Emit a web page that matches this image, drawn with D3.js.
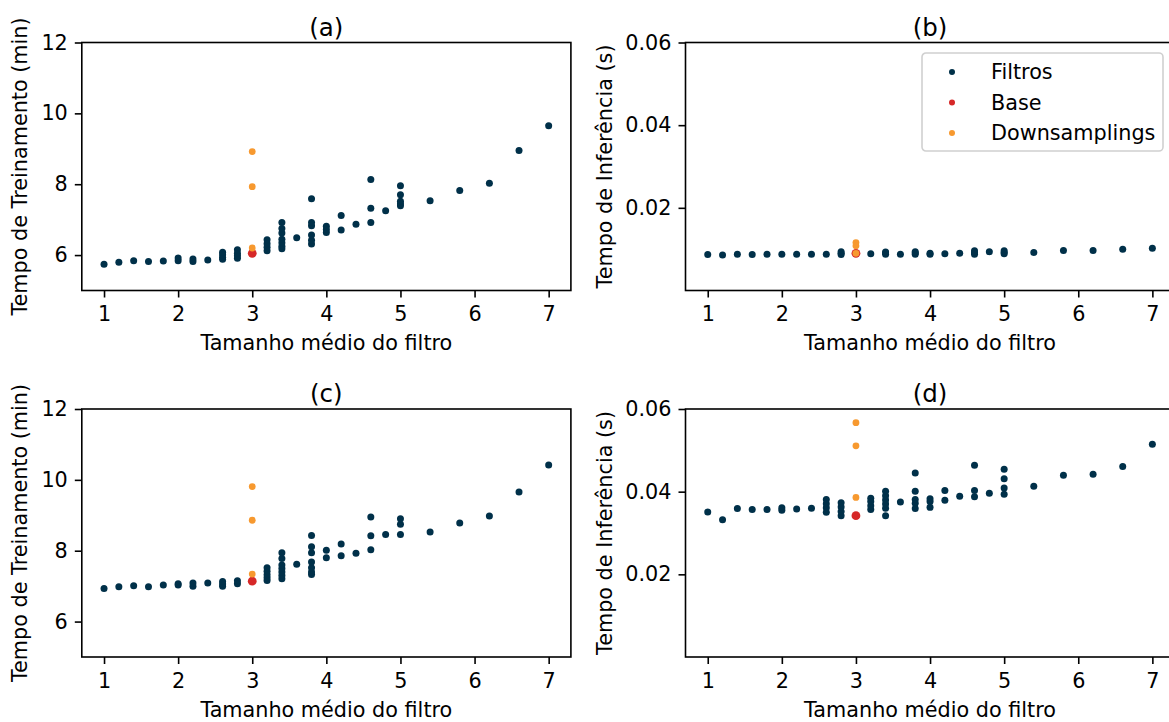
<!DOCTYPE html>
<html>
<head>
<meta charset="utf-8">
<script src="https://cdn.jsdelivr.net/npm/d3@7"></script>
<style>
  html, body { margin: 0; padding: 0; background: #fff; }
  svg { display: block; font-family: "DejaVu Sans", sans-serif; }
</style>
</head>
<body>
<svg id="chart" width="1169" height="722"></svg>
<script>
// Average filter size vs. training time / inference time.
// Each entry is [tamanho médio do filtro, valor].

const seriesNames = ["Filtros", "Base", "Downsamplings"];
const seriesColors = ["#003049", "#d62828", "#f7992f"];

const xTicks = [1, 2, 3, 4, 5, 6, 7];
const trainTicks = [6, 8, 10, 12];
const inferTicks = [0.02, 0.04, 0.06];
const trainDomain = [5, 12];
const inferDomain = [0, 0.06];
const xDomain = [0.7, 7.3];

// (a) Tempo de treinamento (min)
const filtrosA = [
  [1.0, 5.74], [1.2, 5.80], [1.4, 5.84], [1.6, 5.82], [1.8, 5.83],
  [2.0, 5.84], [2.0, 5.92], [2.2, 5.82], [2.2, 5.89], [2.4, 5.86],
  [2.6, 5.88], [2.6, 5.94], [2.6, 6.01], [2.6, 6.08],
  [2.8, 5.91], [2.8, 5.98], [2.8, 6.05], [2.8, 6.15],
  [3.2, 6.12], [3.2, 6.22], [3.2, 6.32], [3.2, 6.43],
  [3.4, 6.18], [3.4, 6.25], [3.4, 6.35], [3.4, 6.45], [3.4, 6.62], [3.4, 6.75], [3.4, 6.92],
  [3.6, 6.49],
  [3.8, 6.31], [3.8, 6.42], [3.8, 6.57], [3.8, 6.83], [3.8, 6.92], [3.8, 7.59],
  [4.0, 6.64], [4.0, 6.72], [4.0, 6.81],
  [4.2, 6.71], [4.2, 7.12], [4.4, 6.87],
  [4.6, 6.92], [4.6, 7.32], [4.6, 8.13], [4.8, 7.25],
  [5.0, 7.39], [5.0, 7.45], [5.0, 7.52], [5.0, 7.70], [5.0, 7.96],
  [5.4, 7.53], [5.8, 7.82], [6.2, 8.03], [6.6, 8.95], [7.0, 9.65]
];
const baseA = [[3.0, 6.05]];
const downA = [[3.0, 8.92], [3.0, 7.93], [3.0, 6.20]];

// (b) Tempo de inferência (s)
const filtrosB = [
  [1.0, 0.0087], [1.2, 0.0086], [1.4, 0.0088], [1.6, 0.0087], [1.8, 0.0088],
  [2.0, 0.0088], [2.2, 0.0088], [2.4, 0.0088], [2.6, 0.0088],
  [2.8, 0.0087], [2.8, 0.0090], [2.8, 0.0094],
  [3.2, 0.0089], [3.4, 0.0088], [3.4, 0.0091], [3.4, 0.0093], [3.6, 0.0088],
  [3.8, 0.0088], [3.8, 0.0091], [3.8, 0.0094],
  [4.0, 0.0088], [4.0, 0.0090], [4.2, 0.0089], [4.4, 0.0090],
  [4.6, 0.0088], [4.6, 0.0092], [4.6, 0.0096], [4.8, 0.0094],
  [5.0, 0.0089], [5.0, 0.0092], [5.0, 0.0096],
  [5.4, 0.0092], [5.8, 0.0097], [6.2, 0.0097], [6.6, 0.0100], [7.0, 0.0102]
];
const baseB = [[3.0, 0.0090]];
const downB = [[3.0, 0.0116], [3.0, 0.0108], [3.0, 0.0090]];

// (c) Tempo de treinamento (min)
const filtrosC = [
  [1.0, 6.93], [1.2, 6.98], [1.4, 7.01], [1.6, 6.98], [1.8, 7.03],
  [2.0, 7.03], [2.0, 7.07], [2.2, 7.00], [2.2, 7.09], [2.4, 7.09],
  [2.6, 7.00], [2.6, 7.06], [2.6, 7.13], [2.8, 7.07], [2.8, 7.15],
  [3.2, 7.16], [3.2, 7.24], [3.2, 7.32], [3.2, 7.42], [3.2, 7.52],
  [3.4, 7.21], [3.4, 7.30], [3.4, 7.40], [3.4, 7.50], [3.4, 7.60], [3.4, 7.78], [3.4, 7.94],
  [3.6, 7.62],
  [3.8, 7.33], [3.8, 7.40], [3.8, 7.52], [3.8, 7.68], [3.8, 7.94], [3.8, 8.11], [3.8, 8.43],
  [4.0, 7.80], [4.0, 8.01], [4.2, 7.86], [4.2, 8.19], [4.4, 7.93],
  [4.6, 8.03], [4.6, 8.42], [4.6, 8.95], [4.8, 8.46],
  [5.0, 8.46], [5.0, 8.75], [5.0, 8.90],
  [5.4, 8.53], [5.8, 8.78], [6.2, 8.98], [6.6, 9.66], [7.0, 10.42]
];
const baseC = [[3.0, 7.14]];
const downC = [[3.0, 9.81], [3.0, 8.86], [3.0, 7.34]];

// (d) Tempo de inferência (s)
const filtrosD = [
  [1.0, 0.0351], [1.2, 0.0332], [1.4, 0.0359], [1.6, 0.0357], [1.8, 0.0357],
  [2.0, 0.0355], [2.0, 0.0361], [2.2, 0.0358], [2.4, 0.0360],
  [2.6, 0.0350], [2.6, 0.0361], [2.6, 0.0371], [2.6, 0.0381],
  [2.8, 0.0342], [2.8, 0.0352], [2.8, 0.0363], [2.8, 0.0373],
  [3.2, 0.0357], [3.2, 0.0366], [3.2, 0.0376], [3.2, 0.0384],
  [3.4, 0.0342], [3.4, 0.0360], [3.4, 0.0370], [3.4, 0.0380], [3.4, 0.0390], [3.4, 0.0401],
  [3.6, 0.0375],
  [3.8, 0.0359], [3.8, 0.0372], [3.8, 0.0381], [3.8, 0.0401], [3.8, 0.0445],
  [4.0, 0.0362], [4.0, 0.0376], [4.0, 0.0383],
  [4.2, 0.0379], [4.2, 0.0403], [4.4, 0.0389],
  [4.6, 0.0388], [4.6, 0.0403], [4.6, 0.0464], [4.8, 0.0396],
  [5.0, 0.0394], [5.0, 0.0409], [5.0, 0.0431], [5.0, 0.0454],
  [5.4, 0.0413], [5.8, 0.0440], [6.2, 0.0442], [6.6, 0.0461], [7.0, 0.0515]
];
const baseD = [[3.0, 0.0342]];
const downD = [[3.0, 0.0567], [3.0, 0.0511], [3.0, 0.0386]];

const xLabel = "Tamanho médio do filtro";
const trainLabel = "Tempo de Treinamento (min)";
const inferLabel = "Tempo de Inferência (s)";

// Panel layout (pixels)
const colLeft = [81.8, 685.5];
const colWidth = 489.1;
const rowTop = [42.5, 409];
const rowHeight = 248;

const panels = [
  { title: "(a)", col: 0, row: 0, kind: "train", sets: [filtrosA, baseA, downA] },
  { title: "(b)", col: 1, row: 0, kind: "infer", sets: [filtrosB, baseB, downB], legend: true },
  { title: "(c)", col: 0, row: 1, kind: "train", sets: [filtrosC, baseC, downC] },
  { title: "(d)", col: 1, row: 1, kind: "infer", sets: [filtrosD, baseD, downD] }
];

const radii = [3.5, 4.4, 3.4];
const FS = 20.75;

const svg = d3.select("#chart");

panels.forEach(p => {
  const x0 = colLeft[p.col], y0 = rowTop[p.row];
  const g = svg.append("g").attr("transform", `translate(${x0},${y0})`);
  const x = d3.scaleLinear().domain(xDomain).range([0, colWidth]);
  const isTrain = p.kind === "train";
  const y = d3.scaleLinear()
    .domain(isTrain ? trainDomain : inferDomain)
    .range([rowHeight, 0]);

  // axes
  const xAxis = d3.axisBottom(x).tickValues(xTicks).tickFormat(d3.format("d"))
    .tickSize(7).tickSizeOuter(0).tickPadding(9);
  const yAxis = d3.axisLeft(y)
    .tickValues(isTrain ? trainTicks : inferTicks)
    .tickFormat(isTrain ? d3.format("d") : d3.format(".2f"))
    .tickSize(7).tickSizeOuter(0).tickPadding(7);

  const gx = g.append("g").attr("transform", `translate(0,${rowHeight})`).call(xAxis);
  const gy = g.append("g").call(yAxis);
  [gx, gy].forEach(a => {
    a.select(".domain").remove();
    a.selectAll(".tick line").attr("stroke", "#000").attr("stroke-width", 1.6);
    a.selectAll(".tick text").attr("fill", "#000").attr("font-size", FS)
      .attr("font-family", "DejaVu Sans, sans-serif");
  });

  // points: Filtros, Base, Downsamplings
  p.sets.forEach((set, i) => {
    g.append("g").selectAll("circle").data(set).join("circle")
      .attr("cx", d => x(d[0]))
      .attr("cy", d => y(d[1]))
      .attr("r", radii[i])
      .attr("fill", seriesColors[i]);
  });

  // frame
  g.append("rect")
    .attr("x", 0).attr("y", 0).attr("width", colWidth).attr("height", rowHeight)
    .attr("fill", "none").attr("stroke", "#000").attr("stroke-width", 1.6);

  // title and labels
  g.append("text").attr("x", colWidth / 2).attr("y", -7)
    .attr("text-anchor", "middle").attr("font-size", 24.5).attr("fill", "#000")
    .text(p.title);
  g.append("text").attr("x", colWidth / 2).attr("y", rowHeight + 59.5)
    .attr("text-anchor", "middle").attr("font-size", FS).attr("fill", "#000")
    .text(xLabel);
  const yOff = isTrain ? 55 : 73.5;
  g.append("text")
    .attr("transform", `translate(${-yOff},${rowHeight / 2}) rotate(-90)`)
    .attr("text-anchor", "middle").attr("font-size", FS).attr("fill", "#000")
    .text(isTrain ? trainLabel : inferLabel);

  if (p.legend) {
    const lx = 922 - x0, ly = 53 - y0;
    const lg = g.append("g").attr("transform", `translate(${lx},${ly})`);
    lg.append("rect").attr("width", 241).attr("height", 98).attr("rx", 4)
      .attr("fill", "#fff").attr("fill-opacity", 0.8)
      .attr("stroke", "#d0d0d0").attr("stroke-width", 1.6);
    seriesNames.forEach((name, i) => {
      const row = lg.append("g").attr("transform", `translate(0,${19 + i * 30.5})`);
      row.append("circle").attr("cx", 30).attr("cy", 0).attr("r", 3)
        .attr("fill", seriesColors[i]);
      row.append("text").attr("x", 69).attr("y", 0).attr("dy", "0.35em")
        .attr("font-size", FS).attr("fill", "#000").text(name);
    });
  }
});
</script>
</body>
</html>
